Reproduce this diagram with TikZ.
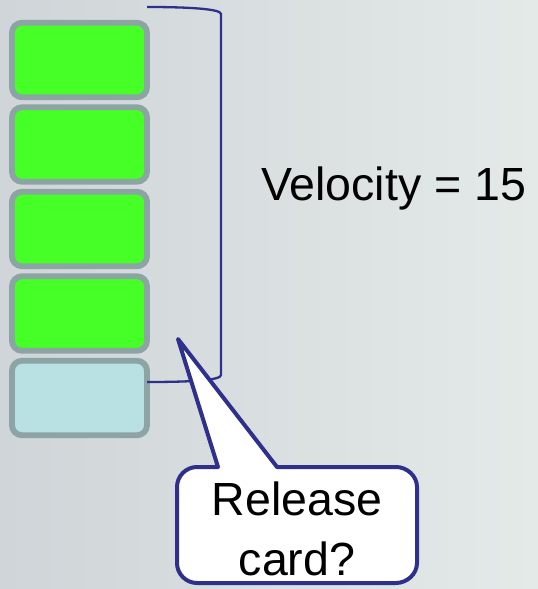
\documentclass[tikz,border=0pt]{standalone}
\usepackage{fontspec}
\setmainfont{Liberation Sans}
\definecolor{bgL}{RGB}{207,213,216}
\definecolor{bgR}{RGB}{228,234,232}
\definecolor{cardgreen}{RGB}{69,255,38}
\definecolor{cardblue}{RGB}{185,224,226}
\definecolor{cardedge}{RGB}{141,164,164}
\definecolor{navy}{RGB}{46,48,140}
\tikzset{
  card/.style={draw=cardedge, line width=5.8pt, rounded corners=10pt,
    minimum width=135pt, minimum height=74.5pt, inner sep=0pt},
  bigtext/.style={font=\fontsize{46.5}{54}\selectfont, text=black, inner sep=0pt},
  bracketline/.style={draw=navy, line width=2.3pt},
  calloutline/.style={draw=navy, fill=white, line width=4pt, line join=round}
}
\begin{document}
\begin{tikzpicture}[x=1pt,y=-1pt]
\useasboundingbox (0,0) rectangle (538,589);
\shade[left color=bgL, right color=bgR] (0,0) rectangle (538,589);
% cards
\node[card, fill=cardgreen] (c1) at (79.5,60) {};
\node[card, fill=cardgreen] (c2) at (79.5,144.5) {};
\node[card, fill=cardgreen] (c3) at (79.5,229) {};
\node[card, fill=cardgreen] (c4) at (79.5,313.5) {};
\node[card, fill=cardblue] (c5) at (79.5,398) {};
% bracket
\coordinate (bt) at (147,7);
\coordinate (bb) at (147,382);
\draw[bracketline] (bt) .. controls (190,7) and (221,9) .. (221,14) -- (221,375) .. controls (221,380) and (195,382) .. (bb);
% label
\node[bigtext, anchor=base west] (vel) at (261,200) {Velocity = 15};
% callout
\coordinate (tip) at (178,339);
\draw[calloutline] (218,467) -- (tip) -- (277,467) -- (396,467)
  .. controls (407,467) and (417,476) .. (417,487) -- (417,563)
  .. controls (417,574) and (407,583) .. (396,583) -- (197,583)
  .. controls (186,583) and (177,574) .. (177,563) -- (177,487)
  .. controls (177,476) and (186,467) .. (197,467) -- cycle;
\node[bigtext, anchor=base] (rel) at (297,515) {Release};
\node[bigtext, anchor=base] (card) at (297,575) {card?};
\end{tikzpicture}
\end{document}
